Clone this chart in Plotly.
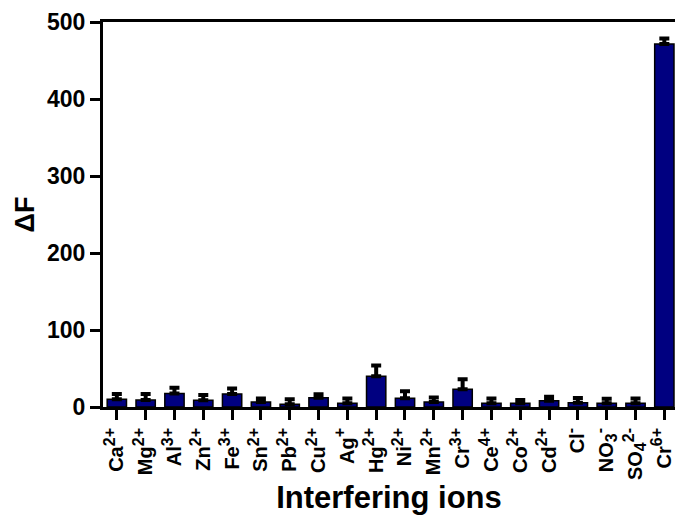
import plotly.graph_objects as go

SUP = "<sup><span style='font-size:16px'>{}</span></sup>"
SUB = "<sub><span style='font-size:16px'>{}</span></sub>"

ion_base = ["Ca", "Mg", "Al", "Zn", "Fe", "Sn", "Pb", "Cu", "Ag", "Hg",
            "Ni", "Mn", "Cr", "Ce", "Co", "Cd", "Cl", "NO", "SO", "Cr"]
ion_sub = ["", "", "", "", "", "", "", "", "", "",
           "", "", "", "", "", "", "", "3", "4", ""]
ion_charge = ["2+", "2+", "3+", "2+", "3+", "2+", "2+", "2+", "+", "2+",
              "2+", "2+", "3+", "4+", "2+", "2+", "-", "-", "2-", "6+"]
delta_f = [10, 9, 17.5, 8.7, 17, 6.5, 3.5, 12, 5, 40,
           11.3, 6.5, 23, 5, 5, 8.2, 5.6, 4.8, 5, 471.5]
errors = [7, 8, 7.5, 7, 7, 4.5, 6.5, 4.5, 6, 14,
          9, 6, 13, 6, 4, 5, 6, 6, 6, 7]

ions = [b + (SUB.format(s) if s else "") + SUP.format(c)
        for b, s, c in zip(ion_base, ion_sub, ion_charge)]
positions = list(range(len(ions)))

fig = go.Figure()
fig.add_trace(go.Bar(
    x=positions, y=delta_f, width=0.67,
    marker=dict(color="#000080", line=dict(color="black", width=1.5)),
    error_y=dict(type="data", symmetric=False, array=errors, arrayminus=[0] * len(errors),
                 color="black", thickness=4, width=5),
))

fig.update_layout(
    width=675, height=519,
    margin=dict(l=103, r=0, t=22, b=112),
    plot_bgcolor="white", paper_bgcolor="white",
    showlegend=False,
    font=dict(family="Liberation Sans, Arial, sans-serif", color="black"),
)

fig.update_xaxes(
    range=[-0.48, 19.37],
    tickmode="array", tickvals=positions, ticktext=ions,
    tickangle=-90,
    tickfont=dict(size=20, weight="bold"),
    ticks="outside", ticklen=10, tickwidth=3, tickcolor="black",
    showline=True, linewidth=3, linecolor="black", mirror=True,
    showgrid=False, zeroline=False,
    title=dict(text="Interfering ions", font=dict(size=31, weight="bold"), standoff=8),
)

fig.update_yaxes(
    range=[0, 500],
    tickvals=[0, 100, 200, 300, 400, 500],
    tickfont=dict(size=23, weight="bold"),
    ticks="outside", ticklen=10, tickwidth=3, tickcolor="black",
    showline=True, linewidth=3, linecolor="black",
    showgrid=False, zeroline=False,
    title=dict(text="ΔF", font=dict(size=27, weight="bold"), standoff=5),
)

fig.write_html("out.html")
